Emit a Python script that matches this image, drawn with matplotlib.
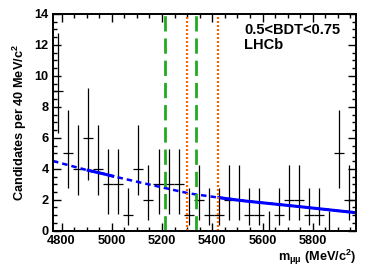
import numpy as np
import matplotlib
matplotlib.use("Agg")
from matplotlib import pyplot as plt
from matplotlib.ticker import MultipleLocator

plt.rcParams['font.family'] = ['Liberation Sans', 'DejaVu Sans']
plt.rcParams['font.weight'] = 'bold'
plt.rcParams['mathtext.fontset'] = 'custom'
plt.rcParams['mathtext.rm'] = 'Liberation Sans:bold'
plt.rcParams['mathtext.it'] = 'Liberation Sans:bold'
plt.rcParams['mathtext.bf'] = 'Liberation Sans:bold'

# 30 bins of 40 MeV, lower edge of the first bin
bin_lo = 4766
bin_width = 40
counts = [9, 5, 4, 6, 4, 3, 3, 1, 4, 2, 3, 3, 3, 1, 2,
          1, 1, 2, 2, 1, 1, 0, 1, 2, 2, 1, 1, 0, 5, 2]
# asymmetric errors, by count
err_down = {0: 0.0, 1: 0.63, 2: 1.3, 3: 1.95, 4: 1.7, 5: 2.25, 6: 2.7, 9: 2.7}
err_up = {0: 1.25, 1: 1.75, 2: 2.25, 3: 2.3, 4: 2.8, 5: 2.8, 6: 3.25, 9: 3.8}

# background fit curve
fit_mass = [4766, 4900, 4960, 5010, 5112, 5307, 5420, 5530, 5750, 5973]
fit_vals = [4.50, 3.92, 3.70, 3.50, 3.12, 2.41, 2.15, 1.92, 1.55, 1.16]
# index ranges of fit_mass drawn as solid line
solid_parts = [(1, 3), (6, 9)]

bd_window = (5212, 5335)
bs_window = (5299, 5421)

centers = np.array([bin_lo + bin_width * (i + 0.5) for i in range(len(counts))])
y = np.array(counts, dtype=float)
lo = np.array([err_down[c] for c in counts])
hi = np.array([err_up[c] for c in counts])

fig = plt.figure(figsize=(3.75, 2.69), dpi=100)
ax = fig.add_axes([0.1413, 0.1424, 0.8080, 0.8056])

ax.errorbar(centers, y, yerr=[lo, hi], xerr=bin_width / 2, fmt='none',
            ecolor='black', elinewidth=0.9, capsize=0)

ax.plot(fit_mass, fit_vals, color='blue', lw=1.8, ls=(0, (2.2, 1.6)))
for i, j in solid_parts:
    ax.plot(fit_mass[i:j + 1], fit_vals[i:j + 1], color='blue', lw=2.2,
            solid_capstyle='butt')

for xv in bd_window:
    ax.axvline(xv, color='#22aa22', lw=2.0, ls=(0, (5.5, 2.5)))
for xv in bs_window:
    ax.axvline(xv, color='#ff6600', lw=1.6, ls=(0, (0.9, 0.9)))

ax.set_xlim(4766, 5972)
ax.set_ylim(0, 14)
ax.xaxis.set_major_locator(MultipleLocator(200))
ax.xaxis.set_minor_locator(MultipleLocator(50))
ax.yaxis.set_major_locator(MultipleLocator(2))
ax.yaxis.set_minor_locator(MultipleLocator(0.5))
ax.tick_params(which='both', direction='in', top=True, right=True,
               labelsize=9.2, width=1.0)
ax.tick_params(which='major', length=6, pad=3)
ax.tick_params(which='minor', length=3)
for lab in ax.get_xticklabels() + ax.get_yticklabels():
    lab.set_fontweight('bold')
for s in ax.spines.values():
    s.set_linewidth(1.4)

ax.set_ylabel('Candidates per 40 MeV/c$^{2}$', fontsize=9.2,
              fontweight='bold', labelpad=4)
ax.set_xlabel('m$_{μμ}$ (MeV/c$^{2}$)', fontsize=9.2, fontweight='bold',
              loc='right', labelpad=1)

ax.text(0.63, 0.926, '0.5<BDT<0.75', transform=ax.transAxes, fontsize=10.5,
        fontweight='bold', va='center', ha='left')
ax.text(0.63, 0.857, 'LHCb', transform=ax.transAxes, fontsize=10.5,
        fontweight='bold', va='center', ha='left')

fig.savefig('out.png', dpi=100)
